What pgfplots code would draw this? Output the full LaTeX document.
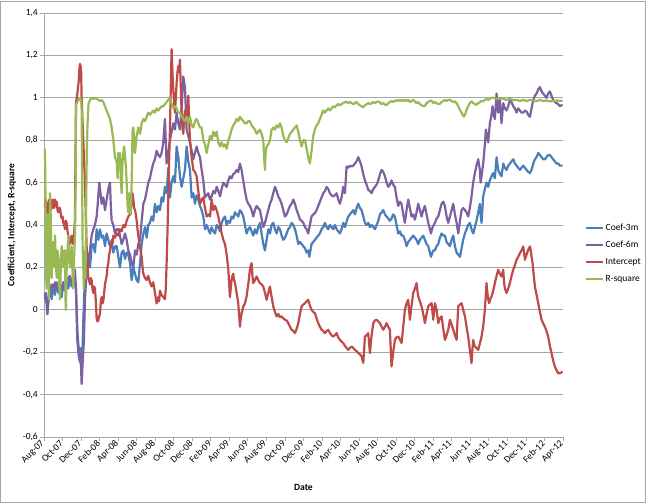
\documentclass[border=0pt]{standalone}
\usepackage{fontspec}
\setmainfont{Carlito}
\usepackage{pgfplots}
\pgfplotsset{compat=1.18}
\definecolor{cblue}{HTML}{4A7EBB}
\definecolor{cpurple}{HTML}{7D60A0}
\definecolor{cred}{HTML}{BE4B48}
\definecolor{cgreen}{HTML}{98B954}
\definecolor{gridc}{HTML}{A6A6A6}
\begin{document}
\begin{tikzpicture}[font=\fontsize{9.5}{11}\selectfont]
\path[use as bounding box] (-44pt,-66pt) rectangle (602pt,437pt);
\draw[gridc, line width=0.8pt] (-43.6pt,-65.6pt) rectangle (601.3pt,435.4pt);
\begin{axis}[
  at={(0pt,0pt)}, anchor=south west,
  scale only axis, width=519pt, height=424pt,
  xmin=0, xmax=56, ymin=-0.6, ymax=1.4,
  axis x line=bottom, axis y line=left,
  axis line style={gridc, line width=0.8pt, -},
  tick align=outside, major tick length=4pt,
  tick style={gridc, line width=0.8pt},
  xtick={0,2,...,56},
  xticklabels={Aug-07,Oct-07,Dec-07,Feb-08,Apr-08,Jun-08,Aug-08,Oct-08,Dec-08,Feb-09,Apr-09,Jun-09,Aug-09,Oct-09,Dec-09,Feb-10,Apr-10,Jun-10,Aug-10,Oct-10,Dec-10,Feb-11,Apr-11,Jun-11,Aug-11,Oct-11,Dec-11,Feb-12,Apr-12},
  xticklabel style={rotate=45, anchor=east, inner sep=1.5pt},
  ytick={-0.6,-0.4,-0.2,0,0.2,0.4,0.6,0.8,1,1.2,1.4},
  yticklabels={{-0,6},{-0,4},{-0,2},{0},{0,2},{0,4},{0,6},{0,8},{1},{1,2},{1,4}},
  yticklabel style={anchor=east, inner sep=2pt},
  ymajorgrids, grid style={gridc, line width=0.8pt},
  xlabel={\textbf{Date}},
  xlabel style={at={(axis description cs:0.5,-0.118)}, anchor=center},
  ylabel={\textbf{Coefficient, Intercept, R-square}},
  ylabel style={at={(axis description cs:-0.062,0.5)}, anchor=center},
  legend style={at={(1.042,0.433)}, anchor=west, draw=none, fill=none,
    inner sep=0pt, row sep=6pt, nodes={inner sep=1.5pt}},
  legend cell align=left,
  legend image code/.code={\draw[#1, line width=2.2pt] (0pt,0pt) -- (17pt,0pt);},
  every axis plot/.append style={line width=2.2pt, line join=round, no markers},
]
\addplot[cblue] table {
0.07 0.08
0.20 0.04
0.29 0.05
0.36 -0.02
0.47 0.06
0.65 0.10
0.83 0.05
1.01 0.12
1.19 0.07
1.37 0.13
1.55 0.08
1.73 0.12
1.91 0.06
2.09 0.13
2.27 0.09
2.45 0.14
2.62 0.10
2.80 0.15
2.98 0.11
3.16 0.16
3.34 0.13
3.45 0.10
3.60 -0.15
3.75 -0.22
3.90 -0.25
4.00 -0.18
4.06 -0.28
4.15 -0.20
4.24 -0.05
4.35 0.08
4.60 0.22
4.78 0.25
4.96 0.20
5.14 0.30
5.32 0.31
5.50 0.27
5.68 0.38
5.86 0.33
6.04 0.38
6.22 0.34
6.40 0.35
6.58 0.30
6.76 0.36
6.94 0.33
7.12 0.30
7.30 0.31
7.48 0.27
7.66 0.30
7.84 0.30
8.02 0.25
8.20 0.20
8.38 0.27
8.56 0.28
8.74 0.24
8.92 0.27
9.10 0.26
9.28 0.22
9.46 0.14
9.64 0.20
9.82 0.17
10.00 0.14
10.18 0.13
10.36 0.22
10.54 0.31
10.72 0.36
10.90 0.39
11.08 0.34
11.25 0.40
11.43 0.41
11.61 0.44
11.79 0.42
11.97 0.50
12.15 0.46
12.33 0.49
12.51 0.47
12.69 0.53
12.87 0.51
13.05 0.58
13.23 0.55
13.41 0.67
13.59 0.53
13.77 0.60
13.95 0.63
14.13 0.60
14.31 0.77
14.49 0.72
14.67 0.63
14.85 0.58
15.03 0.62
15.21 0.66
15.39 0.77
15.57 0.70
15.75 0.66
15.93 0.53
16.11 0.55
16.29 0.50
16.47 0.54
16.65 0.52
16.83 0.49
17.01 0.47
17.19 0.44
17.37 0.38
17.55 0.40
17.73 0.38
17.91 0.36
18.09 0.39
18.27 0.37
18.45 0.36
18.63 0.40
18.81 0.39
18.99 0.37
19.17 0.41
19.35 0.43
19.53 0.44
19.71 0.40
19.89 0.42
20.06 0.41
20.24 0.44
20.42 0.43
20.60 0.46
20.96 0.44
21.14 0.47
21.32 0.46
21.50 0.44
21.68 0.40
21.86 0.36
22.04 0.38
22.22 0.39
22.40 0.37
22.58 0.35
22.76 0.38
22.94 0.36
23.12 0.39
23.30 0.41
23.48 0.36
23.66 0.31
23.84 0.28
24.02 0.33
24.20 0.38
24.38 0.36
24.56 0.40
24.74 0.41
24.92 0.38
25.10 0.36
25.28 0.39
25.46 0.38
25.64 0.35
25.82 0.33
26.00 0.34
26.18 0.36
26.36 0.38
26.54 0.39
26.72 0.41
26.90 0.40
27.08 0.38
27.26 0.35
27.44 0.31
27.62 0.32
27.80 0.31
27.98 0.30
28.16 0.29
28.34 0.27
28.51 0.28
28.62 0.25
28.87 0.31
29.05 0.32
29.23 0.33
29.41 0.34
29.59 0.35
29.77 0.36
29.95 0.38
30.13 0.39
30.31 0.41
30.49 0.39
30.67 0.38
30.85 0.40
31.03 0.39
31.21 0.38
31.39 0.40
31.57 0.38
31.75 0.37
31.93 0.36
32.11 0.38
32.29 0.41
32.47 0.39
32.83 0.44
33.01 0.45
33.19 0.46
33.37 0.47
33.55 0.45
33.73 0.48
33.91 0.50
34.09 0.48
34.27 0.47
34.45 0.44
34.63 0.41
34.81 0.40
34.99 0.41
35.17 0.39
35.35 0.40
35.53 0.39
35.71 0.38
35.89 0.40
36.07 0.42
36.25 0.45
36.43 0.46
36.61 0.47
36.79 0.45
36.97 0.44
37.15 0.43
37.32 0.42
37.50 0.43
37.68 0.45
37.86 0.44
38.04 0.40
38.22 0.36
38.40 0.37
38.58 0.35
38.76 0.35
38.94 0.33
39.12 0.30
39.30 0.32
39.48 0.33
39.66 0.34
39.84 0.35
40.02 0.34
40.20 0.33
40.38 0.31
40.56 0.33
40.74 0.34
40.92 0.35
41.10 0.33
41.28 0.31
41.46 0.30
41.64 0.27
41.75 0.25
42.00 0.28
42.18 0.28
42.36 0.30
42.54 0.31
42.72 0.34
42.90 0.36
43.08 0.35
43.26 0.35
43.44 0.32
43.62 0.31
43.80 0.30
43.98 0.33
44.16 0.35
44.34 0.30
44.52 0.27
44.70 0.26
44.88 0.25
45.06 0.29
45.23 0.33
45.42 0.36
45.59 0.38
45.77 0.40
45.95 0.41
46.13 0.38
46.31 0.36
46.49 0.39
46.67 0.42
46.85 0.46
47.03 0.50
47.11 0.45
47.21 0.41
47.39 0.535
47.57 0.57
47.75 0.60
47.93 0.58
48.11 0.61
48.29 0.63
48.47 0.645
48.65 0.62
48.83 0.72
49.01 0.66
49.19 0.64
49.37 0.63
49.55 0.69
49.73 0.67
49.91 0.66
50.09 0.68
50.27 0.69
50.45 0.70
50.63 0.71
50.81 0.69
50.99 0.68
51.17 0.67
51.35 0.66
51.53 0.67
51.71 0.68
51.89 0.67
52.07 0.66
52.25 0.65
52.43 0.645
52.61 0.66
52.79 0.69
52.97 0.71
53.15 0.72
53.33 0.74
53.51 0.73
53.69 0.72
53.86 0.71
54.04 0.71
54.22 0.72
54.40 0.73
54.58 0.73
54.76 0.72
54.94 0.71
55.12 0.70
55.30 0.69
55.48 0.69
55.66 0.68
55.83 0.68
55.95 0.68
};
\addlegendentry{Coef-3m}
\addplot[cpurple] table {
0.07 0.05
0.20 0.08
0.36 -0.02
0.50 0.05
0.65 0.09
0.83 0.12
1.01 0.10
1.19 0.13
1.37 0.10
1.55 0.11
1.73 0.12
1.91 0.10
2.09 0.13
2.27 0.12
2.45 0.12
2.62 0.15
2.80 0.16
2.98 0.13
3.16 0.14
3.34 0.19
3.45 0.10
3.60 -0.10
3.70 -0.16
3.80 -0.20
3.88 -0.24
3.95 -0.21
4.06 -0.35
4.12 -0.30
4.17 -0.25
4.31 -0.14
4.42 0.05
4.53 0.13
4.78 0.24
4.96 0.28
5.14 0.35
5.32 0.38
5.50 0.40
5.68 0.44
5.80 0.50
5.97 0.60
6.10 0.55
6.22 0.50
6.40 0.53
6.58 0.47
6.76 0.52
6.94 0.57
7.12 0.60
7.20 0.50
7.30 0.42
7.48 0.40
7.66 0.36
7.84 0.38
8.02 0.38
8.20 0.35
8.38 0.31
8.56 0.33
8.74 0.36
8.92 0.33
9.10 0.28
9.28 0.26
9.46 0.22
9.64 0.20
9.82 0.28
10.00 0.26
10.18 0.31
10.36 0.33
10.54 0.42
10.72 0.50
10.90 0.52
11.08 0.56
11.25 0.60
11.43 0.62
11.61 0.66
11.79 0.69
11.97 0.71
12.15 0.75
12.33 0.73
12.51 0.72
12.69 0.74
12.87 0.79
13.05 0.90
13.23 0.69
13.41 0.74
13.59 0.80
13.77 0.84
13.95 0.88
14.13 0.85
14.31 0.93
14.49 0.88
14.67 0.85
14.85 0.95
15.03 1.10
15.21 1.05
15.39 0.85
15.57 0.82
15.75 0.79
15.93 0.75
16.11 0.71
16.29 0.74
16.47 0.77
16.65 0.74
16.83 0.72
17.01 0.66
17.19 0.61
17.37 0.53
17.55 0.54
17.73 0.55
17.91 0.52
18.09 0.535
18.27 0.56
18.45 0.55
18.63 0.58
18.81 0.56
18.99 0.535
19.17 0.57
19.35 0.60
19.53 0.59
19.71 0.58
19.89 0.61
20.06 0.63
20.24 0.62
20.42 0.64
20.60 0.645
20.78 0.66
20.96 0.65
21.14 0.69
21.32 0.66
21.50 0.61
21.68 0.56
21.86 0.52
22.04 0.50
22.22 0.49
22.40 0.47
22.58 0.44
22.76 0.47
22.94 0.49
23.12 0.48
23.30 0.47
23.48 0.43
23.66 0.39
23.84 0.41
24.02 0.44
24.20 0.47
24.38 0.50
24.56 0.52
24.74 0.55
24.92 0.58
25.10 0.56
25.28 0.535
25.46 0.52
25.64 0.50
25.82 0.47
26.00 0.44
26.18 0.45
26.36 0.47
26.54 0.49
26.72 0.50
26.90 0.52
27.08 0.50
27.26 0.47
27.44 0.45
27.62 0.425
27.80 0.42
27.98 0.41
28.16 0.39
28.34 0.38
28.51 0.36
28.69 0.40
28.87 0.44
29.05 0.45
29.23 0.456
29.41 0.47
29.59 0.49
29.77 0.51
29.95 0.53
30.13 0.55
30.31 0.56
30.49 0.58
30.67 0.57
30.85 0.55
31.03 0.54
31.21 0.535
31.39 0.54
31.57 0.55
31.75 0.52
31.93 0.50
32.11 0.53
32.29 0.58
32.47 0.55
32.65 0.676
32.83 0.67
33.01 0.68
33.19 0.676
33.37 0.68
33.55 0.69
33.73 0.70
33.91 0.72
34.09 0.70
34.27 0.676
34.45 0.64
34.63 0.61
34.81 0.59
34.99 0.566
35.17 0.56
35.35 0.55
35.53 0.57
35.71 0.58
35.89 0.59
36.07 0.61
36.25 0.64
36.43 0.66
36.61 0.65
36.79 0.63
36.97 0.60
37.15 0.58
37.32 0.59
37.50 0.61
37.68 0.59
37.86 0.58
38.04 0.53
38.22 0.49
38.40 0.51
38.58 0.50
38.76 0.45
38.94 0.41
39.12 0.47
39.30 0.52
39.48 0.48
39.66 0.44
39.84 0.45
40.02 0.425
40.20 0.46
40.38 0.50
40.56 0.47
40.74 0.44
40.92 0.47
41.10 0.49
41.28 0.45
41.46 0.41
41.64 0.38
41.75 0.36
41.93 0.39
42.18 0.41
42.36 0.43
42.54 0.44
42.72 0.47
42.90 0.50
43.08 0.51
43.26 0.49
43.44 0.44
43.62 0.41
43.80 0.44
43.98 0.47
44.16 0.50
44.34 0.45
44.52 0.41
44.70 0.36
44.88 0.42
45.06 0.47
45.23 0.48
45.42 0.47
45.59 0.46
45.77 0.44
45.95 0.48
46.13 0.535
46.31 0.60
46.49 0.645
46.67 0.68
46.85 0.71
47.03 0.66
47.11 0.60
47.21 0.63
47.39 0.69
47.57 0.78
47.68 0.85
47.80 0.82
47.93 0.79
48.11 0.88
48.29 0.92
48.40 0.96
48.52 0.92
48.65 0.90
48.83 1.02
49.01 0.93
49.19 0.99
49.37 0.88
49.55 0.975
49.73 0.95
49.91 0.94
50.09 0.96
50.27 0.99
50.45 0.98
50.63 0.96
50.81 0.95
50.99 0.93
51.17 0.95
51.35 0.94
51.53 0.93
51.71 0.93
51.89 0.94
52.07 0.935
52.25 0.92
52.43 0.91
52.61 0.95
52.79 0.99
52.97 1.01
53.15 1.02
53.33 1.04
53.51 1.05
53.69 1.03
53.86 1.02
54.04 1.01
54.22 1.00
54.40 1.02
54.58 1.03
54.76 1.01
54.94 0.99
55.12 0.98
55.30 0.975
55.48 0.97
55.66 0.96
55.83 0.965
55.95 0.967
};
\addlegendentry{Coef-6m}
\addplot[cred] table {
0.07 0.48
0.18 0.52
0.29 0.50
0.38 0.45
0.47 0.47
0.56 0.52
0.65 0.52
0.74 0.47
0.83 0.48
0.92 0.52
1.01 0.50
1.10 0.48
1.19 0.52
1.28 0.49
1.37 0.51
1.46 0.47
1.55 0.46
1.64 0.48
1.73 0.48
1.82 0.45
1.91 0.43
2.00 0.44
2.09 0.41
2.18 0.40
2.27 0.38
2.36 0.42
2.45 0.41
2.54 0.37
2.62 0.35
2.71 0.32
2.80 0.31
2.89 0.33
2.98 0.35
3.07 0.32
3.16 0.31
3.25 0.36
3.34 0.42
3.45 0.98
3.55 1.00
3.65 1.04
3.75 1.08
3.82 1.14
3.88 1.16
3.95 1.15
4.01 1.12
4.06 1.00
4.15 0.90
4.24 0.80
4.33 0.70
4.42 0.60
4.51 0.45
4.60 0.30
4.69 0.22
4.78 0.15
4.87 0.14
4.96 0.12
5.05 0.15
5.14 0.14
5.23 0.10
5.32 0.08
5.41 0.11
5.50 0.10
5.59 0.04
5.68 -0.04
5.77 -0.055
5.86 -0.05
5.95 -0.03
6.04 -0.02
6.13 0.04
6.22 0.06
6.31 0.03
6.40 0.04
6.49 0.08
6.58 0.12
6.67 0.14
6.76 0.16
6.85 0.20
6.94 0.22
7.03 0.26
7.12 0.28
7.21 0.30
7.30 0.33
7.39 0.31
7.48 0.35
7.66 0.34
7.84 0.36
8.02 0.35
8.20 0.38
8.38 0.37
8.56 0.40
8.74 0.39
8.92 0.42
9.10 0.44
9.28 0.45
9.46 0.50
9.55 0.55
9.64 0.52
9.73 0.48
9.82 0.47
9.91 0.45
10.00 0.42
10.09 0.38
10.18 0.35
10.27 0.32
10.36 0.30
10.45 0.27
10.54 0.25
10.63 0.20
10.72 0.17
10.90 0.15
11.08 0.14
11.25 0.16
11.43 0.13
11.61 0.11
11.79 0.13
11.97 0.08
12.15 0.03
12.33 0.06
12.42 0.04
12.51 0.09
12.69 0.07
12.87 0.06
13.05 0.05
13.14 0.10
13.23 0.22
13.32 0.36
13.41 0.53
13.50 0.70
13.59 0.85
13.68 1.05
13.77 1.23
13.86 1.12
13.95 1.04
14.04 0.98
14.13 0.93
14.22 1.00
14.31 1.07
14.40 1.12
14.49 1.15
14.58 1.12
14.67 1.18
14.76 1.05
14.85 0.93
14.94 0.86
15.03 0.83
15.12 0.90
15.21 0.94
15.30 0.91
15.39 0.88
15.48 0.95
15.57 1.01
15.66 0.90
15.75 0.80
15.93 0.72
16.11 0.66
16.29 0.65
16.47 0.63
16.65 0.56
16.83 0.50
17.01 0.52
17.19 0.53
17.37 0.48
17.55 0.44
17.73 0.45
17.91 0.44
18.09 0.52
18.27 0.47
18.45 0.49
18.63 0.47
18.81 0.44
18.99 0.40
19.17 0.36
19.35 0.33
19.53 0.31
19.71 0.26
19.89 0.19
20.06 0.06
20.15 0.10
20.24 0.14
20.33 0.16
20.42 0.17
20.51 0.14
20.60 0.13
20.78 0.08
20.96 0.03
21.05 -0.02
21.14 -0.08
21.23 -0.04
21.32 -0.02
21.50 0.016
21.68 0.03
21.86 0.063
22.04 0.12
22.22 0.19
22.31 0.21
22.40 0.22
22.49 0.16
22.58 0.126
22.76 0.14
22.94 0.157
23.12 0.14
23.30 0.126
23.48 0.12
23.66 0.11
23.84 0.08
24.02 0.047
24.20 0.08
24.38 0.11
24.56 0.06
24.74 0.016
24.92 -0.01
25.10 -0.031
25.28 -0.02
25.46 -0.035
25.64 -0.031
25.82 -0.04
26.00 -0.047
26.18 -0.05
26.36 -0.063
26.54 -0.08
26.72 -0.094
26.90 -0.10
27.08 -0.11
27.26 -0.09
27.44 -0.063
27.62 -0.02
27.80 0.016
27.98 0.025
28.16 0.031
28.34 0.04
28.51 0.047
28.69 0.02
28.87 0.0
29.05 -0.01
29.23 -0.016
29.41 -0.04
29.59 -0.063
29.77 -0.08
29.95 -0.094
30.13 -0.10
30.31 -0.11
30.49 -0.10
30.67 -0.094
30.85 -0.11
31.03 -0.12
31.21 -0.126
31.39 -0.12
31.57 -0.11
31.75 -0.13
31.93 -0.142
32.11 -0.15
32.29 -0.157
32.47 -0.17
32.65 -0.18
32.83 -0.189
33.01 -0.18
33.19 -0.173
33.37 -0.18
33.55 -0.189
33.73 -0.195
33.91 -0.204
34.09 -0.21
34.27 -0.22
34.45 -0.25
34.54 -0.19
34.63 -0.126
34.81 -0.12
34.99 -0.11
35.08 -0.16
35.17 -0.204
35.35 -0.12
35.53 -0.063
35.71 -0.05
35.89 -0.047
36.07 -0.055
36.25 -0.063
36.43 -0.08
36.61 -0.094
36.79 -0.08
36.97 -0.063
37.15 -0.08
37.32 -0.094
37.41 -0.18
37.50 -0.267
37.68 -0.20
37.86 -0.142
38.04 -0.13
38.22 -0.126
38.40 -0.14
38.58 -0.157
38.76 -0.08
38.94 0.0
39.12 0.03
39.30 0.047
39.39 0.0
39.48 -0.047
39.66 0.02
39.84 0.079
40.02 0.10
40.20 0.126
40.29 0.09
40.38 0.063
40.56 0.04
40.74 0.016
40.92 -0.02
41.10 -0.063
41.28 -0.02
41.46 0.016
41.64 0.025
41.82 0.031
42.00 -0.047
42.18 0.031
42.36 0.0
42.54 -0.063
42.72 -0.04
42.90 -0.031
43.08 -0.09
43.26 -0.142
43.44 -0.12
43.62 -0.094
43.80 -0.047
43.98 -0.07
44.16 -0.094
44.34 -0.12
44.52 -0.142
44.61 -0.06
44.70 0.016
44.88 0.025
45.06 0.031
45.23 0.0
45.42 -0.031
45.59 -0.08
45.77 -0.126
45.95 -0.189
46.13 -0.252
46.22 -0.19
46.31 -0.142
46.40 -0.16
46.49 -0.173
46.67 -0.18
46.85 -0.189
47.03 -0.16
47.21 -0.126
47.39 -0.079
47.57 0.0
47.66 0.06
47.75 0.126
47.84 0.08
47.93 0.05
48.04 0.031
48.15 0.05
48.29 0.063
48.47 0.09
48.65 0.126
48.83 0.16
49.01 0.189
49.19 0.17
49.37 0.157
49.55 0.189
49.64 0.13
49.73 0.10
49.91 0.079
50.09 0.10
50.27 0.126
50.45 0.16
50.63 0.189
50.81 0.21
50.99 0.236
51.17 0.25
51.35 0.267
51.53 0.28
51.71 0.299
51.80 0.27
51.89 0.236
52.07 0.26
52.25 0.283
52.43 0.299
52.52 0.28
52.61 0.25
52.72 0.22
52.85 0.16
52.97 0.11
53.15 0.07
53.33 0.031
53.51 -0.01
53.69 -0.047
53.86 -0.063
54.04 -0.079
54.22 -0.10
54.40 -0.126
54.58 -0.17
54.76 -0.204
54.94 -0.24
55.12 -0.267
55.30 -0.285
55.48 -0.299
55.66 -0.30
55.83 -0.295
55.95 -0.291
};
\addlegendentry{Intercept}
\addplot[cgreen] table {
0.07 0.76
0.12 0.70
0.18 0.45
0.24 0.15
0.29 0.10
0.36 0.45
0.42 0.30
0.47 0.20
0.53 0.05
0.60 0.35
0.65 0.55
0.72 0.45
0.78 0.30
0.83 0.15
0.92 0.30
1.01 0.32
1.10 0.20
1.19 0.35
1.28 0.22
1.37 0.15
1.46 0.28
1.55 0.25
1.64 0.12
1.73 0.05
1.82 0.22
1.91 0.30
2.00 0.25
2.09 0.20
2.18 0.28
2.27 0.28
2.32 0.05
2.36 0.00
2.45 0.20
2.54 0.28
2.62 0.35
2.71 0.25
2.80 0.20
2.89 0.25
2.98 0.30
3.07 0.18
3.16 0.10
3.25 0.25
3.34 0.35
3.42 0.60
3.45 0.97
3.60 0.98
3.75 0.99
3.88 1.00
4.00 0.99
4.06 0.95
4.12 0.60
4.17 0.30
4.24 0.20
4.30 0.10
4.35 0.25
4.42 0.28
4.48 0.15
4.55 0.50
4.62 0.75
4.70 0.88
4.80 0.97
4.96 0.99
5.14 1.00
5.32 0.995
5.50 1.00
5.68 0.995
5.86 0.99
6.04 0.985
6.22 0.99
6.40 0.98
6.58 0.96
6.76 0.94
6.94 0.92
7.12 0.90
7.30 0.86
7.48 0.80
7.66 0.72
7.84 0.70
7.95 0.62
8.02 0.74
8.11 0.70
8.20 0.74
8.29 0.61
8.38 0.55
8.47 0.70
8.56 0.74
8.65 0.77
8.74 0.72
8.83 0.68
8.92 0.60
9.01 0.50
9.10 0.46
9.19 0.55
9.28 0.50
9.37 0.45
9.46 0.60
9.55 0.84
9.64 0.86
9.73 0.80
9.82 0.74
9.91 0.78
10.00 0.82
10.18 0.86
10.36 0.83
10.54 0.88
10.72 0.90
10.90 0.89
11.08 0.91
11.25 0.93
11.43 0.92
11.61 0.93
11.79 0.94
11.97 0.93
12.15 0.95
12.33 0.94
12.51 0.95
12.69 0.96
12.87 0.96
13.05 0.97
13.23 0.98
13.41 0.99
13.59 1.00
13.77 0.97
13.95 0.95
14.13 0.96
14.31 0.95
14.49 0.93
14.67 0.93
14.85 0.91
15.03 0.90
15.21 0.89
15.39 0.91
15.57 0.88
15.75 0.91
15.93 0.87
16.11 0.86
16.29 0.89
16.47 0.90
16.65 0.88
16.83 0.86
17.01 0.86
17.19 0.80
17.37 0.78
17.55 0.74
17.73 0.78
17.91 0.82
18.09 0.80
18.27 0.84
18.45 0.82
18.63 0.84
18.81 0.79
18.99 0.77
19.17 0.79
19.35 0.77
19.53 0.78
19.71 0.76
19.89 0.80
20.06 0.82
20.24 0.85
20.42 0.87
20.60 0.88
20.78 0.90
20.96 0.89
21.14 0.91
21.32 0.90
21.50 0.89
21.68 0.88
21.86 0.88
22.04 0.89
22.22 0.89
22.40 0.87
22.58 0.86
22.76 0.85
22.94 0.83
23.12 0.84
23.30 0.85
23.48 0.83
23.66 0.80
23.75 0.72
23.84 0.66
23.93 0.75
24.02 0.77
24.20 0.78
24.38 0.80
24.56 0.85
24.74 0.86
24.92 0.85
25.10 0.87
25.28 0.86
25.46 0.88
25.64 0.86
25.82 0.82
26.00 0.80
26.18 0.79
26.36 0.81
26.54 0.83
26.72 0.84
26.90 0.85
27.08 0.86
27.26 0.87
27.44 0.84
27.62 0.80
27.80 0.77
27.98 0.80
28.16 0.80
28.34 0.76
28.51 0.72
28.62 0.70
28.69 0.69
28.87 0.75
29.05 0.82
29.23 0.85
29.41 0.87
29.59 0.88
29.77 0.90
29.95 0.92
30.13 0.94
30.31 0.93
30.49 0.94
30.67 0.95
30.85 0.94
31.03 0.95
31.21 0.96
31.39 0.955
31.57 0.965
31.75 0.97
31.93 0.965
32.11 0.97
32.29 0.975
32.47 0.98
32.65 0.98
32.83 0.975
33.01 0.98
33.19 0.975
33.37 0.97
33.55 0.975
33.73 0.98
33.91 0.97
34.09 0.965
34.27 0.96
34.45 0.955
34.63 0.965
34.81 0.97
34.99 0.975
35.17 0.97
35.35 0.975
35.53 0.98
35.71 0.975
35.89 0.98
36.07 0.983
36.25 0.978
36.43 0.97
36.61 0.975
36.79 0.968
36.97 0.965
37.15 0.975
37.32 0.98
37.50 0.985
37.68 0.98
37.86 0.987
38.04 0.985
38.22 0.99
38.40 0.985
38.58 0.99
38.76 0.985
38.94 0.99
39.12 0.985
39.30 0.99
39.48 0.98
39.66 0.985
39.84 0.99
40.02 0.983
40.20 0.975
40.38 0.98
40.56 0.97
40.74 0.965
40.92 0.96
41.10 0.962
41.28 0.975
41.46 0.98
41.64 0.985
41.82 0.987
42.00 0.975
42.18 0.98
42.36 0.975
42.54 0.97
42.72 0.972
42.90 0.98
43.08 0.985
43.26 0.99
43.44 0.985
43.62 0.99
43.80 0.99
43.98 0.985
44.16 0.98
44.34 0.983
44.52 0.975
44.70 0.96
44.88 0.943
45.06 0.93
45.23 0.915
45.31 0.912
45.42 0.92
45.59 0.943
45.77 0.96
45.95 0.975
46.13 0.983
46.31 0.975
46.49 0.97
46.67 0.967
46.85 0.975
47.03 0.98
47.21 0.985
47.39 0.983
47.57 0.99
47.75 0.995
47.93 0.99
48.11 0.995
48.29 1.0
48.47 1.0
48.83 0.995
49.19 1.0
49.55 0.995
49.91 0.99
50.27 0.995
50.63 0.99
50.99 0.99
51.35 0.985
51.71 0.99
52.07 0.985
52.43 0.99
52.79 0.987
53.15 0.985
53.51 0.99
53.86 0.985
54.22 0.987
54.58 0.983
54.94 0.985
55.30 0.987
55.66 0.985
55.95 0.987
};
\addlegendentry{R-square}
\end{axis}
\end{tikzpicture}
\end{document}
